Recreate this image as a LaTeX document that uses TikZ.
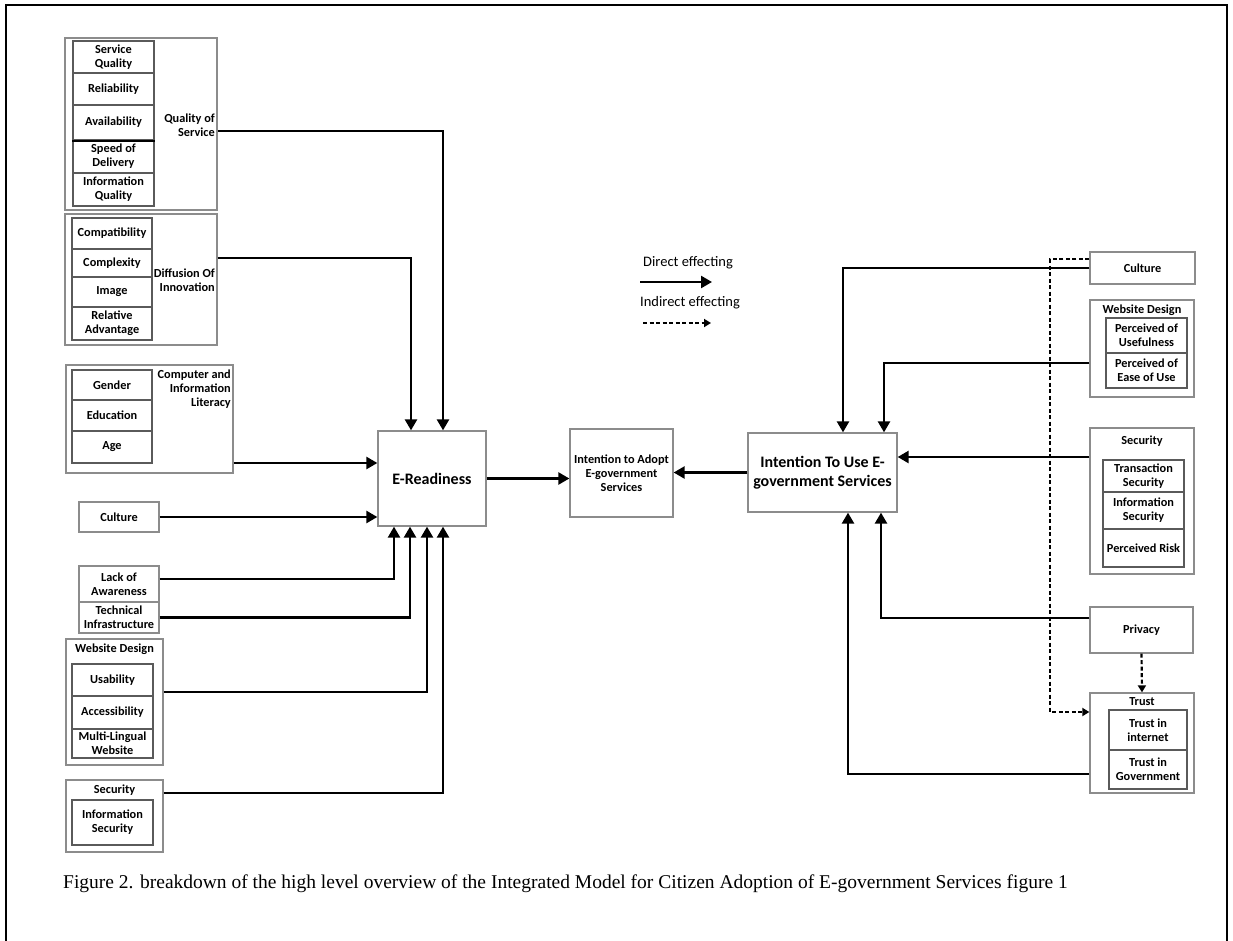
\documentclass[tikz,border=0pt]{standalone}
\usepackage{fontspec}
\setmainfont{Carlito}
\newfontfamily\capfont{Liberation Serif}
\usetikzlibrary{arrows.meta}
\definecolor{boxgray}{HTML}{8C8C8C}
\definecolor{cellgray}{HTML}{5A5A5A}
\newcommand\myCellFont{\fontsize{12.3}{14}\selectfont\bfseries}
\newcommand\myBigFont{\fontsize{16}{19}\selectfont\bfseries}
\newcommand\myLegFont{\fontsize{14.5}{16}\selectfont}
\begin{document}
\begin{tikzpicture}[x=1pt,y=-1pt,
  sz/.style 2 args={minimum width=#1pt, minimum height=#2pt},
  outer/.style={draw=boxgray, line width=1.3pt, inner sep=0pt, align=center, font=\myCellFont},
  cell/.style={draw=cellgray, line width=1.1pt, inner sep=0pt, align=center, font=\myCellFont},
  ttl/.style={inner sep=0pt, font=\myCellFont},
  conn/.style={line width=2.5pt, line join=miter, -{Triangle[length=11pt,width=12pt]}},
  dconn/.style={line width=2.2pt, dash pattern=on 4pt off 2.5pt, -{Triangle[length=7pt,width=8pt]}}
]
\useasboundingbox (0,0) rectangle (1233,941);
% page frame
\draw[line width=1.3pt] (6,5) rectangle (1227,970);

% ---------- left column ----------
% Quality of Service
\node[outer, sz={152}{172}] (qosBox) at (141,124) {};
\node[cell, sz={81}{32}] (sq)  at (113.5,57)    {Service\\Quality};
\node[cell, sz={81}{32}] (rel) at (113.5,89)    {Reliability};
\node[cell, sz={81}{35}] (ava) at (113.5,122.5) {Availability};
\node[cell, sz={81}{33}] (sod) at (113.5,156.5) {Speed of\\Delivery};
\node[cell, sz={81}{33}] (iq)  at (113.5,189.5) {Information\\Quality};
\draw[line width=2pt] (ava.south west) -- (ava.south east);
\node[ttl, anchor=east, align=right] (qosT) at (215,125) {Quality of\\Service};

% Diffusion of Innovation
\node[outer, sz={152}{131}] (difBox) at (141,279.5) {};
\node[cell, sz={80}{31}] (comp) at (112,233.5) {Compatibility};
\node[cell, sz={80}{28}] (cplx) at (112,263)   {Complexity};
\node[cell, sz={80}{30}] (img)  at (112,292)   {Image};
\node[cell, sz={80}{33}] (ra)   at (112,323.5) {Relative\\Advantage};
\node[ttl, anchor=east, align=right] (difT) at (215,280) {Diffusion Of\\Innovation};

% Computer and Information Literacy
\node[outer, sz={167}{108}] (cilBox) at (149.5,419) {};
\node[cell, sz={80}{30}] (gen) at (112,385)   {Gender};
\node[cell, sz={80}{31}] (edu) at (112,415.5) {Education};
\node[cell, sz={80}{32}] (age) at (112,447)   {Age};
\node[ttl, anchor=east, align=right] (cilT) at (231,389) {Computer and\\Information\\Literacy};

% Culture
\node[outer, sz={80}{30}] (culL) at (119,517) {Culture};

% Lack of Awareness / Technical Infrastructure
\node[outer, sz={80}{36}] (law) at (119,584)   {Lack of\\Awareness};
\node[outer, sz={80}{31}] (ti)  at (119,617.5) {Technical\\Infrastructure};

% Website Design
\node[outer, sz={97}{126}] (wdL) at (114.5,702) {};
\node[ttl] (wdLT) at (114.5,649) {Website Design};
\node[cell, sz={81}{32}] (us)  at (112.5,680)   {Usability};
\node[cell, sz={81}{33}] (acc) at (112.5,712.5) {Accessibility};
\node[cell, sz={81}{29}] (ml)  at (112.5,743.5) {Multi-Lingual\\Website};

% Security
\node[outer, sz={97}{72}] (secL) at (114.5,816) {};
\node[ttl] (secLT) at (114.5,790) {Security};
\node[cell, sz={81}{45}] (isL) at (112.5,822.5) {Information\\Security};

% ---------- centre ----------
\node[outer, sz={108}{95}, font=\myBigFont] (er) at (432,478.5) {E-Readiness};
\node[outer, sz={103}{88}] (ita) at (621.5,473) {Intention to Adopt\\E-government\\Services};
\node[outer, sz={149}{79}, font=\myBigFont] (itu) at (822.5,472.5) {Intention To Use E-\\government Services};

% ---------- right column ----------
\node[outer, sz={105}{32}] (culR) at (1142.5,268) {Culture};

\node[outer, sz={104}{97}] (wdR) at (1142,348.5) {};
\node[ttl] (wdRT) at (1142,310) {Website Design};
\node[cell, sz={81}{35}] (pu) at (1146.5,335.5) {Perceived of\\Usefulness};
\node[cell, sz={81}{35}] (pe) at (1146.5,370.5) {Perceived of\\Ease of Use};

\node[outer, sz={104}{146}] (secR) at (1142,501) {};
\node[ttl] (secRT) at (1142,441) {Security};
\node[cell, sz={81}{32}] (ts)  at (1143.5,476)   {Transaction\\Security};
\node[cell, sz={81}{37}] (isR) at (1143.5,510.5) {Information\\Security};
\node[cell, sz={81}{38}] (pr)  at (1143.5,548)   {Perceived Risk};

\node[outer, sz={103}{46}] (priv) at (1141.5,630) {Privacy};

\node[outer, sz={104}{100}] (trust) at (1142,743) {};
\node[ttl] (trustT) at (1142,702) {Trust};
\node[cell, sz={78}{40}] (tin)  at (1148,730)   {Trust in\\internet};
\node[cell, sz={78}{39}] (tgov) at (1148,769.5) {Trust in\\Government};

% ---------- connectors into E-Readiness ----------
\draw[conn] ([yshift=-7pt]qosBox.east) -| ([xshift=11pt]er.north);
\draw[conn] ([yshift=21.5pt]difBox.east) -| ([xshift=-21pt]er.north);
\coordinate (erIn1) at ([yshift=15.5pt]er.west);
\draw[conn] (erIn1 -| cilBox.east) -- (erIn1);
\draw[conn] (culL.east) -- (culL.east -| er.west);
\draw[conn] ([yshift=5pt]law.east) -| ([xshift=-38pt]er.south);
\draw[conn] (ti.east) -| ([xshift=-22pt]er.south);
\draw[conn] ([yshift=10pt]wdL.east) -| ([xshift=-5pt]er.south);
\draw[conn] ([yshift=23pt]secL.east) -| ([xshift=11pt]er.south);

% ---------- centre connectors ----------
\draw[conn] (er.east) -- (er.east -| ita.west);
\draw[conn] (itu.west) -- (itu.west -| ita.east);

% ---------- connectors into Intention To Use ----------
\draw[conn] (culR.west) -| ([xshift=20.5pt]itu.north);
\draw[conn] ([yshift=-14.5pt]wdR.west) -| ([xshift=61.5pt]itu.north);
\coordinate (sR) at ([yshift=44pt]secR.west);
\draw[conn] (sR) -- (sR -| itu.east);
\draw[conn] ([yshift=12pt]priv.west) -| ([xshift=58.5pt]itu.south);
\draw[conn] ([yshift=-31pt]trust.west) -| ([xshift=25.5pt]itu.south);

% ---------- indirect effects ----------
\draw[dconn] (priv.south) -- (trust.north);
\draw[dconn] ([yshift=9pt]culR.west) -- ++(-39,0) |- ([yshift=31pt]trust.west);

% ---------- legend ----------
\coordinate (lgA1) at (640,282);
\coordinate (lgA2) at (712,282);
\coordinate (lgB1) at (643,323);
\coordinate (lgB2) at (711,323);
\node[inner sep=0pt, font=\myLegFont] (lgAT) at (688,263) {Direct effecting};
\node[inner sep=0pt, font=\myLegFont] (lgBT) at (690,303) {Indirect effecting};
\draw[conn] (lgA1) -- (lgA2);
\draw[dconn] (lgB1) -- (lgB2);

% ---------- caption ----------
\node[anchor=base west, inner sep=0pt, font=\capfont\fontsize{19.5}{22}\selectfont] (cap) at (63,888)
  {Figure 2. breakdown of the high level overview of the Integrated Model for Citizen Adoption of E-government Services figure 1};
\end{tikzpicture}
\end{document}
